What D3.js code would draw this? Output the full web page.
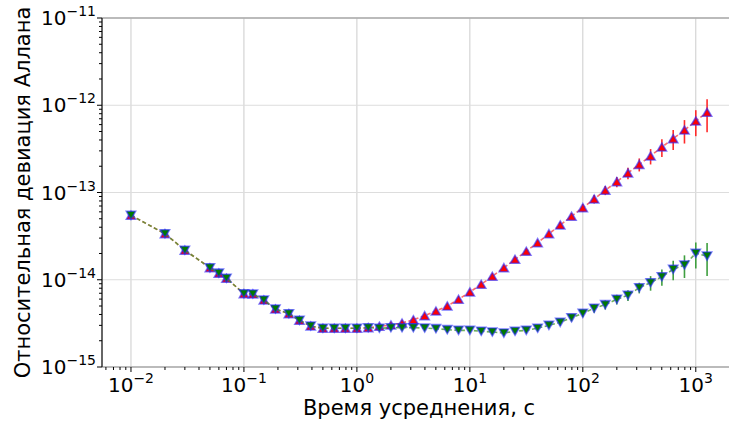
<!DOCTYPE html>
<html>
<head>
<meta charset="utf-8">
<script src="https://cdn.jsdelivr.net/npm/d3@7"></script>
<style>
  body { margin: 0; background: #fff; }
  svg { display: block; font-family: "DejaVu Sans", sans-serif; }
  .tick_label { font-size: 20px; fill: #000; }
  .axis_label { font-size: 21px; fill: #000; }
</style>
</head>
<body>
<script>
var margin = {top: 18, bottom: 56, left: 102, right: -7}
var width = 729 - margin.left - margin.right;
var height = 423 - margin.top - margin.bottom;

// averaging time, s
var tau = [0.01, 0.02, 0.03, 0.05, 0.06, 0.07,
  0.1, 0.12, 0.15, 0.19, 0.25, 0.31, 0.39, 0.5, 0.63, 0.79,
  1, 1.26, 1.58, 2, 2.51, 3.16, 3.98, 5.01, 6.31, 7.94,
  10, 12.6, 15.8, 20, 25.1, 31.6, 39.8, 50.1, 63.1, 79.4,
  100, 126, 158, 200, 251, 316, 398, 501, 631, 794,
  1000, 1259];

// red series (up triangles)
var adevRed = [5.48e-14, 3.37e-14, 2.18e-14, 1.37e-14, 1.19e-14, 1.04e-14,
  6.92e-15, 6.87e-15, 5.86e-15, 4.62e-15, 4.08e-15, 3.43e-15, 2.95e-15, 2.78e-15, 2.78e-15, 2.78e-15,
  2.78e-15, 2.82e-15, 2.93e-15, 3.03e-15, 3.19e-15, 3.48e-15, 3.87e-15, 4.38e-15, 5.0e-15, 5.97e-15,
  7.24e-15, 8.87e-15, 1.095e-14, 1.374e-14, 1.715e-14, 2.12e-14, 2.66e-14, 3.37e-14, 4.24e-14, 5.34e-14,
  6.70e-14, 8.42e-14, 1.06e-13, 1.33e-13, 1.673e-13, 2.10e-13, 2.62e-13, 3.32e-13, 4.14e-13, 5.20e-13,
  6.60e-13, 8.30e-13];

// green series (down triangles)
var adevGreen = [5.48e-14, 3.37e-14, 2.18e-14, 1.37e-14, 1.19e-14, 1.04e-14,
  6.92e-15, 6.87e-15, 5.86e-15, 4.62e-15, 4.08e-15, 3.43e-15, 2.95e-15, 2.78e-15, 2.78e-15, 2.78e-15,
  2.78e-15, 2.82e-15, 2.78e-15, 2.82e-15, 2.82e-15, 2.82e-15, 2.80e-15, 2.75e-15, 2.68e-15, 2.63e-15,
  2.63e-15, 2.57e-15, 2.52e-15, 2.45e-15, 2.57e-15, 2.63e-15, 2.78e-15, 3.0e-15, 3.25e-15, 3.67e-15,
  4.12e-15, 4.71e-15, 5.18e-15, 5.97e-15, 6.64e-15, 8.11e-15, 9.25e-15, 1.084e-14, 1.317e-14, 1.476e-14,
  2.01e-14, 1.87e-14];

// relative errors
var errRed = [0.004, 0.004, 0.004, 0.004, 0.004, 0.004,
  0.005, 0.005, 0.005, 0.006, 0.006, 0.007, 0.007, 0.008, 0.009, 0.01,
  0.011, 0.012, 0.013, 0.015, 0.016, 0.018, 0.02, 0.022, 0.025, 0.028,
  0.032, 0.035, 0.04, 0.045, 0.05, 0.056, 0.063, 0.07, 0.08, 0.09,
  0.1, 0.11, 0.12, 0.135, 0.15, 0.17, 0.2, 0.23, 0.26, 0.3,
  0.33, 0.41];
var errGreen = [0.004, 0.004, 0.004, 0.004, 0.004, 0.004,
  0.005, 0.005, 0.005, 0.006, 0.006, 0.007, 0.007, 0.008, 0.009, 0.01,
  0.011, 0.012, 0.013, 0.015, 0.016, 0.018, 0.02, 0.022, 0.025, 0.028,
  0.032, 0.035, 0.04, 0.045, 0.05, 0.056, 0.063, 0.07, 0.08, 0.09,
  0.1, 0.11, 0.12, 0.13, 0.14, 0.14, 0.19, 0.21, 0.25, 0.29,
  0.33, 0.41];

var xTickExp = [-2, -1, 0, 1, 2, 3];
var yTickExp = [-15, -14, -13, -12, -11];
var xLabel = "Время усреднения, с";
var yLabel = "Относительная девиация Аллана";

var svg = d3.select("body")
  .append("svg")
  .attr("width", 729)
  .attr("height", 423);

var xScale = d3.scaleLog()
  .domain([Math.pow(10, -2.2565), Math.pow(10, 3.356)])
  .range([0, width]);

var yScale = d3.scaleLog()
  .domain([1e-15, 1e-11])
  .range([height, 0]);

var g = svg.append("g")
  .attr("transform", "translate(" + margin.left + "," + margin.top + ")");

//Grid (major only)
g.selectAll(".xgrid")
  .data(xTickExp)
  .enter().append("line")
  .attr("x1", function(d){ return xScale(Math.pow(10, d)); })
  .attr("x2", function(d){ return xScale(Math.pow(10, d)); })
  .attr("y1", 0).attr("y2", height)
  .attr("stroke", "#cccccc").attr("stroke-width", 1);

g.selectAll(".ygrid")
  .data(yTickExp)
  .enter().append("line")
  .attr("y1", function(d){ return yScale(Math.pow(10, d)); })
  .attr("y2", function(d){ return yScale(Math.pow(10, d)); })
  .attr("x1", 0).attr("x2", width)
  .attr("stroke", "#dddddd").attr("stroke-width", 1);

//Spines
g.append("line").attr("x1", 0).attr("x2", width).attr("y1", 0).attr("y2", 0)
  .attr("stroke", "#aaaaaa").attr("stroke-width", 1.5);
g.append("line").attr("x1", 0).attr("x2", width).attr("y1", height).attr("y2", height)
  .attr("stroke", "#aaaaaa").attr("stroke-width", 1.5);
g.append("line").attr("x1", 0).attr("x2", 0).attr("y1", 0).attr("y2", height)
  .attr("stroke", "#333333").attr("stroke-width", 1.5);

//Minor ticks
var xMinor = [];
for (var e = -3; e <= 3; e++) {
  for (var m = 2; m <= 9; m++) {
    var v = m * Math.pow(10, e);
    if (xScale(v) >= 0 && xScale(v) <= width) xMinor.push(v);
  }
}
var yMinor = [];
for (var e2 = -15; e2 < -11; e2++) {
  for (var m2 = 2; m2 <= 9; m2++) yMinor.push(m2 * Math.pow(10, e2));
}

g.selectAll(".xminor").data(xMinor).enter().append("line")
  .attr("x1", function(d){ return xScale(d); })
  .attr("x2", function(d){ return xScale(d); })
  .attr("y1", height).attr("y2", height + 3)
  .attr("stroke", "#000").attr("stroke-width", 1);
g.selectAll(".xmajor").data(xTickExp).enter().append("line")
  .attr("x1", function(d){ return xScale(Math.pow(10, d)); })
  .attr("x2", function(d){ return xScale(Math.pow(10, d)); })
  .attr("y1", height).attr("y2", height + 5)
  .attr("stroke", "#000").attr("stroke-width", 1);
g.selectAll(".yminor").data(yMinor).enter().append("line")
  .attr("y1", function(d){ return yScale(d); })
  .attr("y2", function(d){ return yScale(d); })
  .attr("x1", -3).attr("x2", 0)
  .attr("stroke", "#000").attr("stroke-width", 1);
g.selectAll(".ymajor").data(yTickExp).enter().append("line")
  .attr("y1", function(d){ return yScale(Math.pow(10, d)); })
  .attr("y2", function(d){ return yScale(Math.pow(10, d)); })
  .attr("x1", -5).attr("x2", 0)
  .attr("stroke", "#000").attr("stroke-width", 1);

//Tick labels as 10^n
function powLabel(sel) {
  sel.append("tspan").text("10");
  sel.append("tspan")
    .attr("dy", -9)
    .style("font-size", "14px")
    .text(function(d){ return d < 0 ? "\u2212" + (-d) : d; });
}

g.selectAll(".xlab").data(xTickExp).enter().append("text")
  .attr("class", "tick_label")
  .attr("x", function(d){ return xScale(Math.pow(10, d)); })
  .attr("y", height + 25)
  .attr("text-anchor", "middle")
  .call(powLabel);

g.selectAll(".ylab").data(yTickExp).enter().append("text")
  .attr("class", "tick_label")
  .attr("x", -6)
  .attr("y", function(d){ return yScale(Math.pow(10, d)) + 7; })
  .attr("text-anchor", "end")
  .call(powLabel);

//Axis labels (centred on the axes box, as matplotlib does)
svg.append("text")
  .attr("class", "axis_label")
  .attr("x", margin.left + width / 2)
  .attr("y", 415)
  .attr("text-anchor", "middle")
  .text(xLabel);

svg.append("text")
  .attr("class", "axis_label")
  .attr("transform", "translate(30," + (margin.top + height / 2) + ") rotate(-90)")
  .attr("text-anchor", "middle")
  .text(yLabel);

//Series
var series = [
  {vals: adevRed, err: errRed, line: "rgba(255,60,60,0.75)", bar: "#ff2a2a", fill: "#ff0000", up: true},
  {vals: adevGreen, err: errGreen, line: "rgba(60,150,40,0.75)", bar: "#3f9f3f", fill: "#007a00", up: false}
];

var line = d3.line()
  .x(function(d){ return xScale(d[0]); })
  .y(function(d){ return yScale(d[1]); });

series.forEach(function(s){
  var pts = tau.map(function(t, i){ return [t, s.vals[i], s.err[i]]; });

  g.append("path")
    .datum(pts)
    .attr("d", line)
    .attr("fill", "none")
    .attr("stroke", s.line)
    .attr("stroke-width", 1.6)
    .attr("stroke-dasharray", "4,2.5");

  g.selectAll(null).data(pts).enter().append("line")
    .attr("x1", function(d){ return xScale(d[0]); })
    .attr("x2", function(d){ return xScale(d[0]); })
    .attr("y1", function(d){ return yScale(d[1] * (1 + d[2])); })
    .attr("y2", function(d){ return yScale(d[1] * (1 - d[2])); })
    .attr("stroke", s.bar)
    .attr("stroke-width", 1.6);

  var w = 4.6, h = 4;
  var tri = s.up
    ? "M0," + (-h) + "L" + w + "," + h + "L" + (-w) + "," + h + "Z"
    : "M0," + h + "L" + w + "," + (-h) + "L" + (-w) + "," + (-h) + "Z";

  g.selectAll(null).data(pts).enter().append("path")
    .attr("d", tri)
    .attr("transform", function(d){ return "translate(" + xScale(d[0]) + "," + yScale(d[1]) + ")"; })
    .attr("fill", s.fill)
    .attr("stroke", "rgba(40,40,255,0.6)")
    .attr("stroke-width", 1.6);
});
</script>
</body>
</html>
